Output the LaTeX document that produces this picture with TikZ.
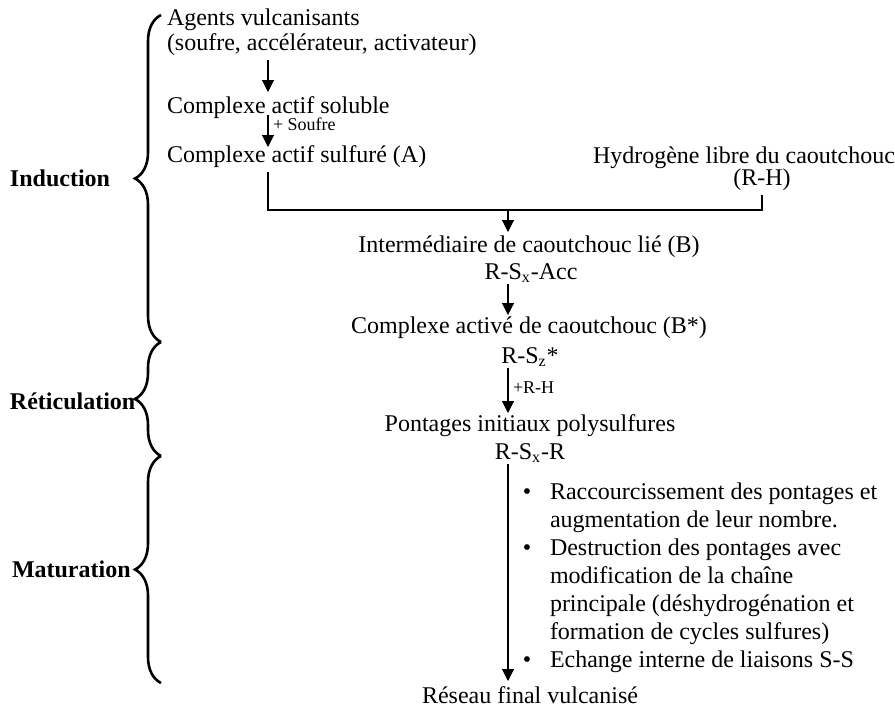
\documentclass[tikz,border=0pt]{standalone}
\usepackage{fontspec}
\setmainfont{Liberation Serif}
\usetikzlibrary{arrows.meta,decorations.pathreplacing}
\begin{document}
\begin{tikzpicture}[x=0.5pt,y=-0.5pt,
  txt/.style={inner sep=0pt,outer sep=0pt,text height=9pt,text depth=2.5pt,font=\fontsize{12}{14}\selectfont},
  small/.style={inner sep=0pt,outer sep=0pt,font=\fontsize{9}{11}\selectfont},
  phase/.style={inner sep=0pt,outer sep=0pt,anchor=base west,font=\fontsize{12}{14}\selectfont\bfseries},
  conn/.style={line width=0.55pt,draw=black},
  arr/.style={conn,-{Triangle[length=6pt,width=6pt]}},
  bracestyle/.style={decorate,decoration={brace,amplitude=13pt},line width=1.3pt}]
\useasboundingbox (0,0) rectangle (895,707);

% phase labels and braces
\node[phase] (induction) at (10,186) {Induction};
\node[phase] (reticulation) at (10,409) {Réticulation};
\node[phase] (maturation) at (12,577) {Maturation};
\draw[bracestyle] (161,342) -- (161,15);
\draw[bracestyle] (161,456) -- (161,342);
\draw[bracestyle] (161,683) -- (161,456);

% main texts
\node[txt,anchor=base west] (agents1) at (167,25) {Agents vulcanisants};
\node[txt,anchor=base west] (agents2) at (167,50) {(soufre, accélérateur, activateur)};
\node[txt,anchor=base west] (soluble) at (167,113) {Complexe actif soluble};
\node[txt,anchor=base west] (sulf) at (167,162) {Complexe actif sulfuré (A)};
\node[txt,anchor=base west] (hyd) at (593,163) {Hydrogène libre du caoutchouc};
\node[txt,anchor=base] (rh) at (762,185) {(R-H)};
\node[txt,anchor=base] (inter) at (529,252) {Intermédiaire de caoutchouc lié (B)};
\node[txt,anchor=base] (rsx) at (531,279) {R-S\textsubscript{x}-Acc};
\node[txt,anchor=base] (bstar) at (529,333) {Complexe activé de caoutchouc (B*)};
\node[txt,anchor=base] (rsz) at (530,363) {R-S\textsubscript{z}*};
\node[txt,anchor=base] (pont) at (530,431) {Pontages initiaux polysulfures};
\node[txt,anchor=base] (rsxr) at (530,459) {R-S\textsubscript{x}-R};
\node[txt,anchor=base] (reseau) at (530,703) {Réseau final vulcanisé};

% small arrow labels
\node[small,anchor=base west] (lsoufre) at (273,130) {+ Soufre};
\node[small,anchor=base west] (lrh) at (513,393) {+R-H};

% bullet list
\node[txt,anchor=base] (b1) at (527,499) {\textbullet};
\node[txt,anchor=base] (b2) at (527,555) {\textbullet};
\node[txt,anchor=base] (b3) at (527,667) {\textbullet};
\node[txt,anchor=base west] (l1) at (550,499) {Raccourcissement des pontages et};
\node[txt,anchor=base west] (l2) at (550,527) {augmentation de leur nombre.};
\node[txt,anchor=base west] (l3) at (550,555) {Destruction des pontages avec};
\node[txt,anchor=base west] (l4) at (550,583) {modification de la chaîne};
\node[txt,anchor=base west] (l5) at (550,611) {principale (déshydrogénation et};
\node[txt,anchor=base west] (l6) at (550,639) {formation de cycles sulfures)};
\node[txt,anchor=base west] (l7) at (550,667) {Echange interne de liaisons S-S};

% connectors
\coordinate (ax) at (268,0);
\coordinate (bx) at (508,0);
\coordinate (jn) at (508,210);
\draw[arr,shorten <=2.5pt,shorten >=1.5pt] (agents2.south -| ax) -- (soluble.north -| ax);
\draw[arr,shorten <=-1.5pt,shorten >=-1.5pt] (soluble.south -| ax) -- (sulf.north -| ax);
\draw[conn,shorten <=2.5pt,shorten >=2.5pt] (sulf.south -| ax) |- (jn) -| (rh.south);
\draw[arr,shorten >=1pt] (jn) -- (inter.north -| jn);
\draw[arr] (rsx.south -| bx) -- (bstar.north -| bx);
\draw[arr] (rsz.south -| bx) -- (pont.north -| bx);
\draw[arr,shorten >=2pt] (rsxr.south -| bx) -- (reseau.north -| bx);
\end{tikzpicture}
\end{document}
